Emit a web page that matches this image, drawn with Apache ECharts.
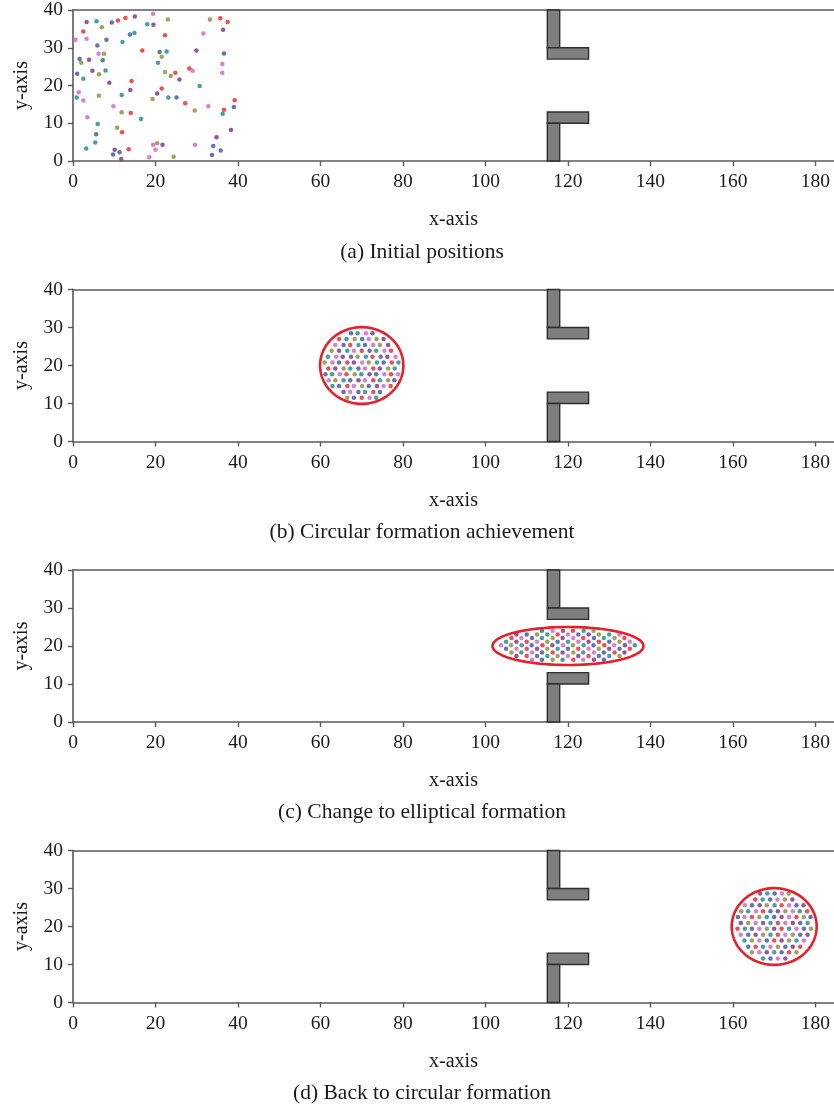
<!DOCTYPE html>
<html><head><meta charset="utf-8">
<script src="https://cdn.jsdelivr.net/npm/echarts@6/dist/echarts.min.js"></script>
<style>html,body{margin:0;padding:0;background:#fff}#c{width:834px;height:1108px}</style>
</head><body><div id="c"></div>
<script>
// ---------- data ----------
const xTicks = [0, 20, 40, 60, 80, 100, 120, 140, 160, 180];
const yTicks = [0, 10, 20, 30, 40];
const captions = ['(a) Initial positions', '(b) Circular formation achievement', '(c) Change to elliptical formation', '(d) Back to circular formation'];
const colorKey = { r: '#ec2227', b: '#3a53a4', t: '#16898a', o: '#8a8a38', p: '#7b2c86', k: '#cf62c4' };

// obstacles: [x1, y1, x2, y2]
const obstacles = [[115, 30, 118, 40], [115, 27, 125, 30], [115, 10, 125, 13], [115, 0, 118, 10]];

// panel (a) initial positions
const initX = [3.3,5.7,9.4,10.9,12.7,15.0,19.4,23.0,18.0,19.5,2.5,7.0,0.6,3.3,8.1,5.9,13.8,14.9,12.0,22.3,16.8,21.0,22.7,21.5,20.6,1.6,2.0,3.9,6.2,7.5,7.2,1.0,4.7,6.3,7.9,2.5,8.8,14.2,22.3,24.8,23.7,25.8,1.4,0.9,2.5,6.3,13.9,11.8,21.5,20.4,19.3,23.1,25.1,27.2,9.8,11.8,14.0,3.5,16.5,6.0,10.7,11.9,5.6,5.4,3.2,10.1,9.7,11.3,11.7,13.5,18.5,19.4,20.4,20.0,21.7,24.4,29.9,31.6,33.2,35.7,37.5,36.4,36.6,36.2,36.2,28.2,29.0,30.7,29.5,32.8,39.2,39.0,36.6,36.3,38.3,34.8,34.0,35.8,33.7,29.6];
const initY = [36.8,37.0,36.7,37.2,37.9,38.3,39.0,37.5,36.2,36.1,34.3,35.4,32.1,32.4,32.1,30.6,33.5,33.9,31.5,33.3,29.3,28.9,29.0,27.6,26.0,27.0,26.0,26.8,28.4,28.4,26.7,23.1,23.9,23.0,24.0,21.8,20.7,21.2,23.6,23.4,22.5,21.6,18.2,16.8,16.0,17.3,18.8,17.5,19.2,17.9,16.4,16.8,16.8,15.3,14.5,12.9,12.7,11.6,11.1,9.8,8.8,7.6,7.1,4.9,3.3,3.0,1.7,2.3,0.5,3.1,1.0,4.3,4.7,3.0,4.3,1.1,29.3,33.8,37.5,37.8,36.8,34.8,28.5,25.7,23.4,24.5,23.9,19.9,13.4,14.5,16.1,14.3,13.6,12.5,8.2,6.3,4.0,2.8,1.6,4.3];
const initC = 'ptbrrpkotp' + 'rokkbbbttr' + 'rbtotbopko' + 'bbpottpror' + 'opktkoptrp' + 'otbrkorktt' + 'orbttpbbpr' + 'kkokpopkor' + 'rpbkkrktok' + 'rbrtppbbbk';

// panel (b) circular formation rows
const circBY = [28.5, 27.0, 25.4, 23.9, 22.3, 20.8, 19.2, 17.7, 16.1, 14.6, 13.0, 11.5];
const circBX = [
  [67.4, 69.0, 71.0, 72.6],
  [64.5, 66.3, 68.3, 70.1, 71.7, 73.6, 75.3],
  [63.6, 65.6, 67.2, 69.2, 70.8, 72.8, 74.4, 76.4],
  [62.7, 64.5, 66.5, 68.1, 70.0, 71.9, 73.5, 75.5, 77.1],
  [61.8, 63.8, 65.4, 67.4, 69.0, 71.0, 72.6, 74.6, 76.2, 78.2],
  [61.0, 62.9, 64.5, 66.5, 68.1, 70.1, 71.7, 73.7, 75.3, 77.3, 78.9],
  [61.9, 63.6, 65.6, 67.2, 69.2, 70.8, 72.8, 74.4, 76.4, 78.0],
  [61.2, 62.8, 64.7, 66.3, 68.3, 69.9, 71.9, 73.5, 75.5, 77.1, 78.8],
  [62.0, 63.6, 65.6, 67.2, 69.2, 70.8, 72.8, 74.4, 76.4, 77.9],
  [62.9, 64.5, 66.5, 68.1, 70.1, 71.7, 73.7, 75.3, 77.0],
  [65.6, 67.2, 69.2, 70.8, 72.8, 74.4],
  [66.5, 68.1, 70.0, 71.9, 73.5]
];
const circBC = ['btkp','rtobkop','kbrtbkop','optkrbtkr','tkpbotrbpk','okbrpkotbrt','rpotbkrpot','btkrotpbkrk','kotbpkrtob','tbrkobpkr','pkbtrb','obrkt'];
const circBRing = [70, 20, 10.1, 10.1];

// panel (c) elliptical formation rows
const ellCY = [24.0, 23.05, 22.1, 21.15, 20.2, 19.25, 18.3, 17.35, 16.4];
const ellCX = [
  [113.7, 116.3, 118.8, 121.2, 123.8, 126.2],
  [107.5, 110.0, 112.5, 115.0, 117.5, 120.0, 122.5, 125.0, 127.5, 130.0, 132.5],
  [106.3, 108.7, 111.3, 113.7, 116.3, 118.7, 121.3, 123.7, 126.3, 128.7, 131.3, 133.7],
  [105.0, 107.5, 110.0, 112.5, 115.0, 117.5, 120.0, 122.5, 125.0, 127.5, 130.0, 132.5, 135.0],
  [103.8, 106.2, 108.8, 111.2, 113.8, 116.2, 118.8, 121.2, 123.8, 126.2, 128.8, 131.2, 133.8, 136.2],
  [105.0, 107.5, 110.0, 112.5, 115.0, 117.5, 120.0, 122.5, 125.0, 127.5, 130.0, 132.5, 135.0],
  [106.3, 108.7, 111.3, 113.7, 116.3, 118.7, 121.3, 123.7, 126.3, 128.7, 131.3, 133.7],
  [107.5, 110.0, 112.5, 115.0, 117.5, 120.0, 122.5, 125.0, 127.5, 130.0, 132.5],
  [111.3, 113.7, 116.3, 118.7, 121.3, 123.7, 126.3, 128.7]
];
const ellCC = ['bkprto','pbotrkbpotk','rkbtopkrbtor','tprkobtkprbok','kotbrpkotbrkpt','bkrpotbrkopbr','otkbrpotkbrp','prbtokprbto','kbotrkpb'];
const ellCRing = [120, 20, 18.3, 5.0];

// panel (d) circular formation rows
const circDY = [28.7, 27.1, 25.6, 24.0, 22.5, 20.9, 19.4, 17.8, 16.3, 14.7, 13.2, 11.6];
const circDX = [
  [166.6, 168.3, 170.1, 171.9, 173.5],
  [165.4, 167.2, 169.0, 170.8, 172.6, 174.4],
  [162.9, 164.6, 166.5, 168.2, 170.1, 171.8, 173.6, 175.4, 177.1],
  [162.0, 163.7, 165.6, 167.3, 169.1, 170.9, 172.7, 174.5, 176.2, 178.0],
  [161.2, 162.8, 164.6, 166.4, 168.2, 170.0, 171.8, 173.6, 175.4, 177.2, 178.8],
  [161.9, 163.7, 165.5, 167.3, 169.1, 170.9, 172.7, 174.5, 176.3, 178.1],
  [161.1, 162.9, 164.6, 166.4, 168.2, 170.0, 171.8, 173.6, 175.4, 177.2, 178.9],
  [161.9, 163.7, 165.5, 167.3, 169.1, 170.9, 172.7, 174.5, 176.3, 178.1],
  [162.8, 164.6, 166.4, 168.2, 170.0, 171.8, 173.6, 175.4, 177.2],
  [163.7, 165.5, 167.3, 169.1, 170.9, 172.7, 174.5, 176.3],
  [164.6, 166.4, 168.2, 170.0, 171.8, 173.6, 175.4],
  [167.3, 169.1, 170.9, 172.7]
];
const circDC = ['ptbko','rtbkop','kbpotrkbp','otkrbpoktr','bkrotbpkrob','pokbtrkpbt','rtbkoprtkbo','kbpotrkobp','tokbrpotk','brtkobpr','okptbro','tbkp'];
const circDRing = [170, 20, 10.3, 10.1];

// ---------- build ----------
function col(ch) { return colorKey[ch] || colorKey.p; }
function fromRows(ys, xs, cs) {
  const out = [];
  ys.forEach((y, i) => xs[i].forEach((x, j) => out.push({ value: [x, y], itemStyle: { color: col(cs[i][j]) } })));
  return out;
}
const panelDots = [
  initX.map((x, i) => ({ value: [x, initY[i]], itemStyle: { color: col(initC[i]) } })),
  fromRows(circBY, circBX, circBC),
  fromRows(ellCY, ellCX, ellCC),
  fromRows(circDY, circDX, circDC)
];
const rings = [null, circBRing, ellCRing, circDRing];

const tops = [9, 289.5, 570, 850.5];
const capY = [252, 532, 812, 1093];
const FONT = '"Liberation Serif", "Times New Roman", serif';
const axisCol = '#5a5a5a';

const grid = [], xAxis = [], yAxis = [], series = [], graphic = [];
tops.forEach((t, k) => {
  grid.push({ left: 73, right: 0, top: t, height: 152, containLabel: false });
  xAxis.push({
    gridIndex: k, type: 'value', min: xTicks[0], max: 184.5, interval: xTicks[1] - xTicks[0],
    position: 'bottom', name: 'x-axis', nameLocation: 'middle', nameGap: 49,
    nameTextStyle: { fontFamily: FONT, fontSize: 20, color: '#1a1a1a' },
    axisLine: { show: true, onZero: false, lineStyle: { color: axisCol, width: 1.6 } },
    axisTick: { show: true, length: 5, lineStyle: { color: axisCol, width: 1.4 } },
    axisLabel: { fontFamily: FONT, fontSize: 19.5, color: '#1a1a1a', margin: 11, showMaxLabel: false },
    splitLine: { show: false }
  });
  xAxis.push({
    gridIndex: k, type: 'value', min: xTicks[0], max: 184.5, position: 'top',
    axisLine: { show: true, onZero: false, lineStyle: { color: axisCol, width: 1.6 } },
    axisTick: { show: false }, axisLabel: { show: false }, splitLine: { show: false }
  });
  yAxis.push({
    gridIndex: k, type: 'value', min: yTicks[0], max: yTicks[yTicks.length - 1], interval: yTicks[1] - yTicks[0],
    name: 'y-axis', nameLocation: 'middle', nameGap: 41,
    nameTextStyle: { fontFamily: FONT, fontSize: 20, color: '#1a1a1a' },
    axisLine: { show: true, onZero: false, lineStyle: { color: axisCol, width: 1.6 } },
    axisTick: { show: true, length: 5, lineStyle: { color: axisCol, width: 1.4 } },
    axisLabel: { fontFamily: FONT, fontSize: 19.5, color: '#1a1a1a', margin: 10 },
    splitLine: { show: false }
  });
  series.push({
    type: 'scatter', xAxisIndex: 2 * k, yAxisIndex: k, symbolSize: 4.5,
    data: panelDots[k], silent: true, z: 3
  });
  series.push({
    type: 'custom', xAxisIndex: 2 * k, yAxisIndex: k, z: 4, silent: true,
    dimensions: ['x1', 'y1', 'x2', 'y2'], encode: { x: [0, 2], y: [1, 3] },
    data: obstacles,
    renderItem: function (params, api) {
      const a = api.coord([api.value(0), api.value(3)]);
      const b = api.coord([api.value(2), api.value(1)]);
      return { type: 'rect', shape: { x: a[0], y: a[1], width: b[0] - a[0], height: b[1] - a[1] },
        style: { fill: '#7f7f7f', stroke: '#2e2e2e', lineWidth: 1.4 } };
    }
  });
  if (rings[k]) {
    series.push({
      type: 'custom', xAxisIndex: 2 * k, yAxisIndex: k, z: 5, silent: true,
      dimensions: ['cx', 'cy', 'rx', 'ry'], encode: { x: 0, y: 1 },
      data: [rings[k]],
      renderItem: function (params, api) {
        const cx = api.value(0), cy = api.value(1), rx = api.value(2), ry = api.value(3);
        const pts = [];
        for (let i = 0; i < 120; i++) {
          const th = i / 120 * Math.PI * 2;
          pts.push(api.coord([cx + rx * Math.cos(th), cy + ry * Math.sin(th)]));
        }
        return { type: 'polygon', shape: { points: pts }, style: { fill: 'none', stroke: '#e8202a', lineWidth: 2.6 } };
      }
    });
  }
  graphic.push({ type: 'text', x: 422, y: capY[k],
    style: { text: captions[k], fontFamily: FONT, fontSize: 21.5, fill: '#1a1a1a', textAlign: 'center', textVerticalAlign: 'middle' } });
});

const chart = echarts.init(document.getElementById('c'), null, { renderer: 'canvas' });
chart.setOption({ animation: false, backgroundColor: '#ffffff', grid, xAxis, yAxis, series, graphic });
</script></body></html>
